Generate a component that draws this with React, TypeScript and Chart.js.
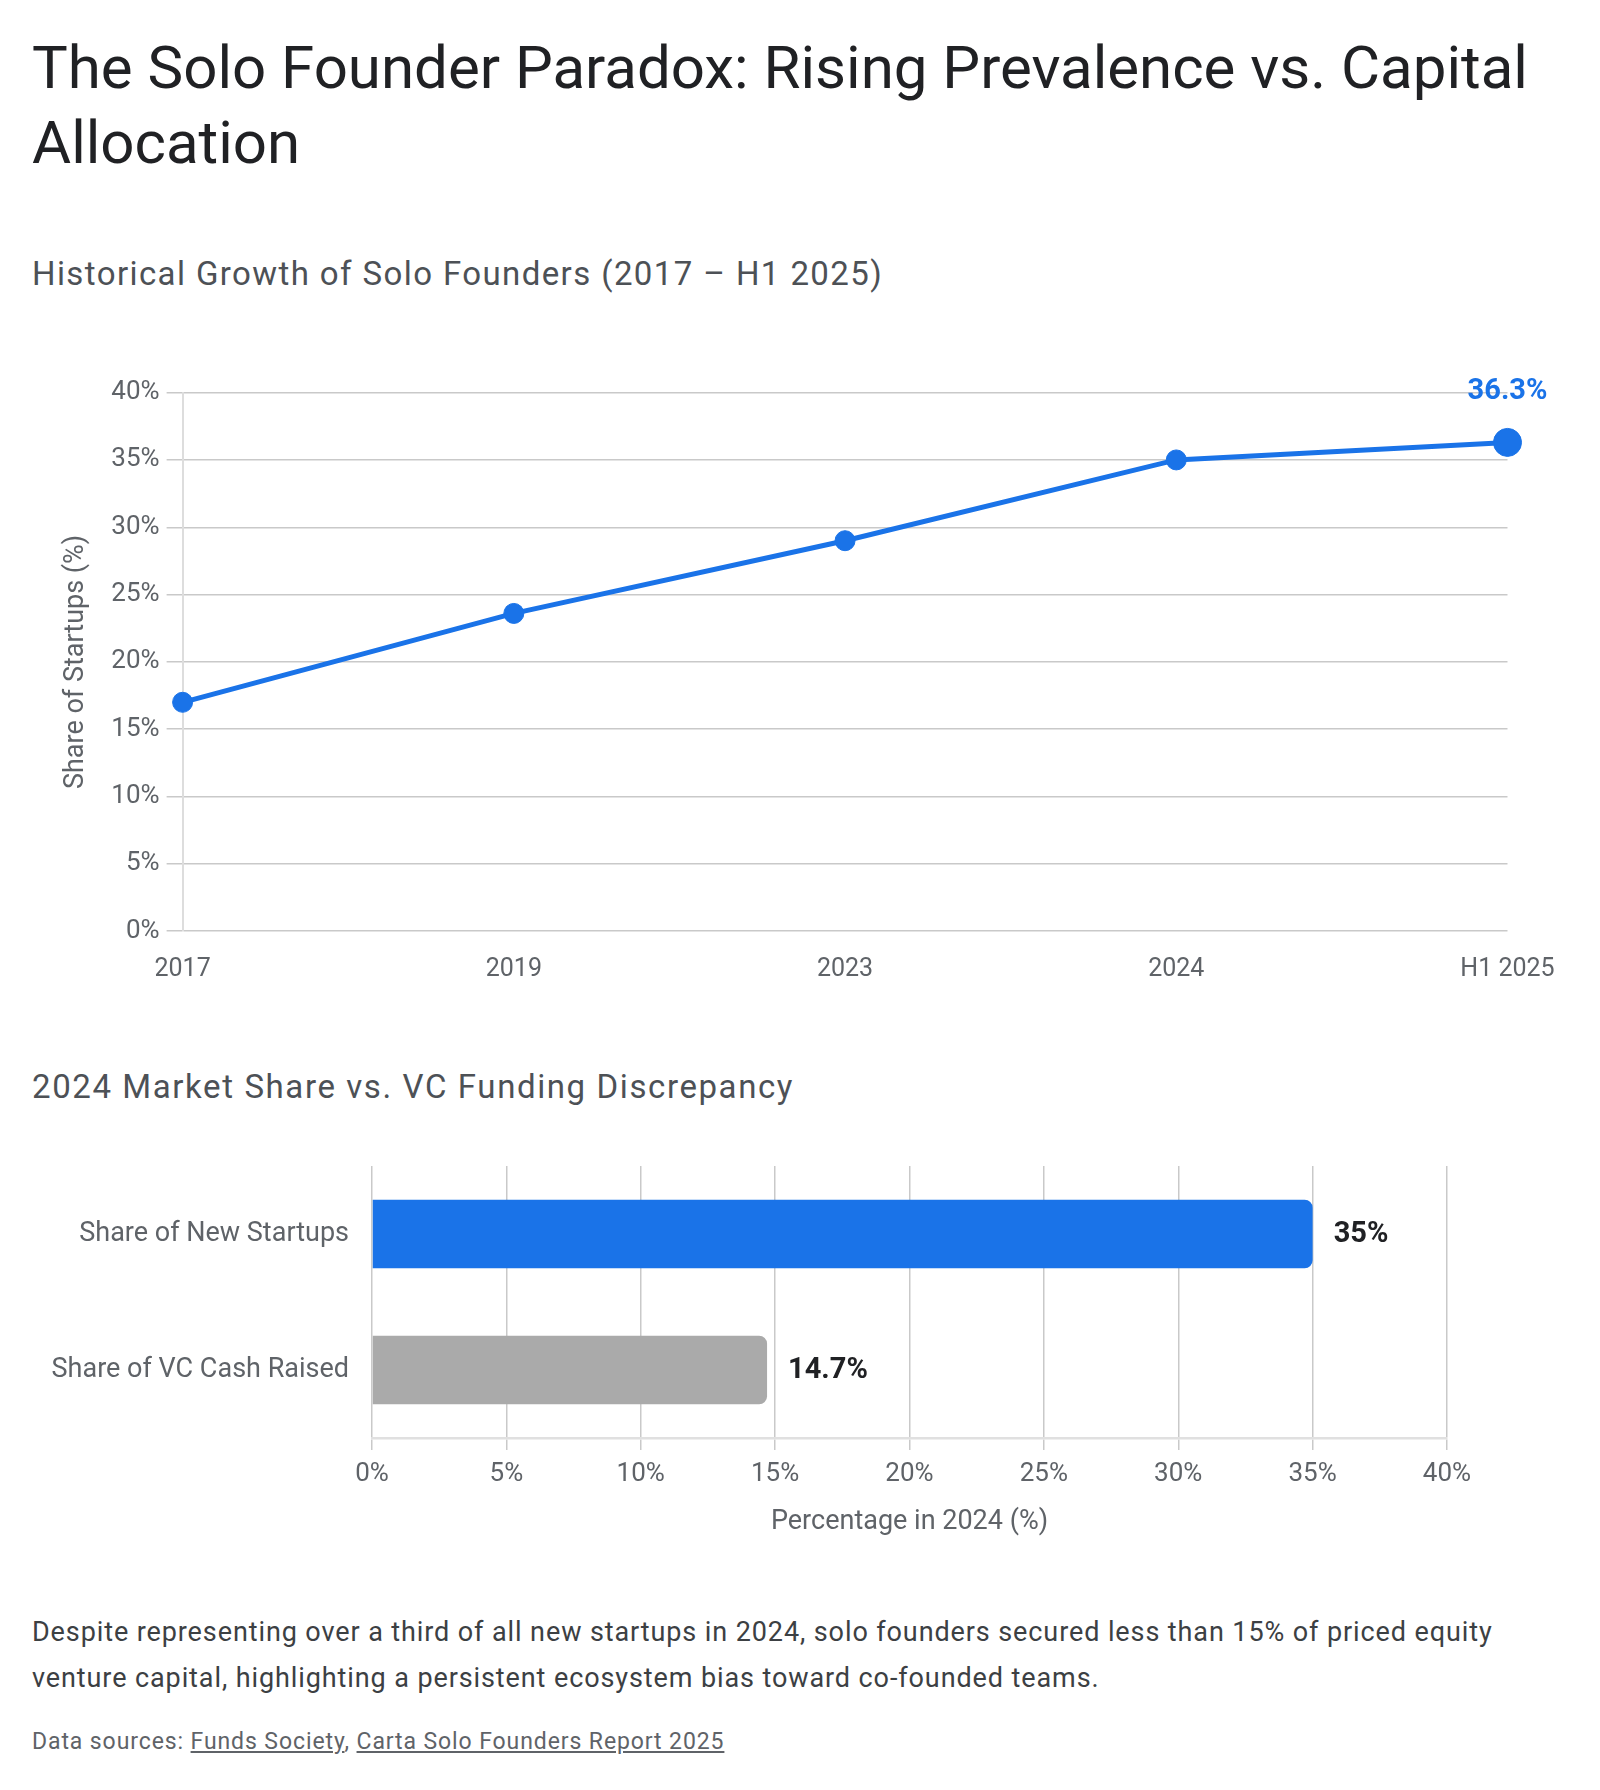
import React, { useEffect, useRef } from "react";
import { Chart, registerables } from "chart.js";

Chart.register(...registerables);

const FONT = "Roboto, 'Noto Sans', Arial, sans-serif";
const BLUE = "#1a73e8";
const GRAY_TEXT = "#5f6368";
const GRID = "#c9c9c9";

// Historical share of startups with a single founder
const growthPeriods = ["2017", "2019", "2023", "2024", "H1 2025"];
const soloFounderShare = [17, 23.6, 29, 35, 36.3];

// 2024 comparison: prevalence vs. capital raised
const compareLabels = ["Share of New Startups", "Share of VC Cash Raised"];
const compareValues = [35, 14.7];
const compareColors = [BLUE, "#aaaaaa"];

const pct = (v: number | string) => `${v}%`;

function GrowthChart() {
  const ref = useRef<HTMLCanvasElement | null>(null);
  useEffect(() => {
    if (!ref.current) return;
    const lastLabel = {
      id: "lastLabel",
      afterDatasetsDraw(chart: any) {
        const meta = chart.getDatasetMeta(0);
        const i = meta.data.length - 1;
        const pt = meta.data[i];
        const ctx = chart.ctx;
        ctx.save();
        ctx.font = `bold 29px ${FONT}`;
        ctx.fillStyle = BLUE;
        ctx.textAlign = "center";
        ctx.textBaseline = "middle";
        ctx.fillText(pct(soloFounderShare[i]), pt.x, pt.y - 51);
        ctx.restore();
      },
    };
    const chart = new Chart(ref.current, {
      type: "line",
      data: {
        labels: growthPeriods,
        datasets: [
          {
            data: soloFounderShare,
            borderColor: BLUE,
            backgroundColor: BLUE,
            borderWidth: 5,
            pointRadius: soloFounderShare.map((_, i) => (i === soloFounderShare.length - 1 ? 14 : 10)),
            pointBorderWidth: 1,
            pointBackgroundColor: BLUE,
            pointBorderColor: BLUE,
            tension: 0,
          },
        ],
      },
      options: {
        animation: false,
        responsive: false,
        layout: { padding: { top: 32.6, right: 72.5, left: 0, bottom: 0 } },
        plugins: { legend: { display: false }, tooltip: { enabled: false } },
        scales: {
          x: {
            type: "category",
            offset: false,
            grid: { display: false, drawTicks: false },
            border: { display: false },
            ticks: {
              font: { family: FONT, size: 25 },
              color: GRAY_TEXT,
              padding: 24,
              maxRotation: 0,
              autoSkip: false,
            },
            afterFit: (s: any) => {
              s.height = 68.8;
            },
          },
          y: {
            min: 0,
            max: 40,
            ticks: {
              stepSize: 5,
              callback: (v: any) => pct(v),
              font: { family: FONT, size: 26 },
              color: GRAY_TEXT,
              padding: 7,
            },
            grid: { color: GRID, lineWidth: 1.5, drawTicks: true, tickLength: 16 },
            border: { display: true, color: "#dddddd", width: 2 },
            title: {
              display: true,
              text: "Share of Startups (%)",
              font: { family: FONT, size: 27 },
              color: GRAY_TEXT,
              padding: { top: 28.5, bottom: 0 },
            },
            afterFit: (s: any) => {
              s.width = 150.6;
            },
          },
        },
      },
      plugins: [lastLabel],
    });
    return () => chart.destroy();
  }, []);
  return <canvas ref={ref} width={1548} height={640} style={{ position: "absolute", left: 24, top: 352, width: 1548, height: 640 }} />;
}

function CompareChart() {
  const ref = useRef<HTMLCanvasElement | null>(null);
  useEffect(() => {
    if (!ref.current) return;
    const barLabels = {
      id: "barLabels",
      afterDatasetsDraw(chart: any) {
        const meta = chart.getDatasetMeta(0);
        const ctx = chart.ctx;
        ctx.save();
        ctx.font = `bold 29px ${FONT}`;
        ctx.fillStyle = "#202124";
        ctx.textAlign = "left";
        ctx.textBaseline = "middle";
        meta.data.forEach((bar: any, i: number) => {
          ctx.fillText(pct(compareValues[i]), bar.x + 21, bar.y + 1);
        });
        ctx.restore();
      },
    };
    const chart = new Chart(ref.current, {
      type: "bar",
      data: {
        labels: compareLabels,
        datasets: [
          {
            data: compareValues,
            backgroundColor: compareColors,
            borderRadius: 8,
            barPercentage: 0.505,
            categoryPercentage: 1,
          },
        ],
      },
      options: {
        indexAxis: "y",
        animation: false,
        responsive: false,
        layout: { padding: { top: 26, right: 133, left: 0, bottom: 0 } },
        plugins: { legend: { display: false }, tooltip: { enabled: false } },
        scales: {
          x: {
            min: 0,
            max: 40,
            ticks: {
              stepSize: 5,
              callback: (v: any) => pct(v),
              font: { family: FONT, size: 26 },
              color: GRAY_TEXT,
              padding: 9,
            },
            grid: { color: GRID, lineWidth: 1.5, drawTicks: true, tickLength: 12 },
            border: { display: true, color: "#e0e0e0", width: 2.5 },
            title: {
              display: true,
              text: "Percentage in 2024 (%)",
              font: { family: FONT, size: 27 },
              color: GRAY_TEXT,
              padding: { top: 0, bottom: 22 },
            },
            afterFit: (s: any) => {
              s.height = 122;
            },
          },
          y: {
            grid: {
              display: true,
              drawOnChartArea: false,
              drawTicks: true,
              tickLength: 23,
              color: "rgba(0,0,0,0)",
            },
            border: { display: false },
            ticks: { font: { family: FONT, size: 27 }, color: GRAY_TEXT, padding: 0 },
            afterFit: (s: any) => {
              s.width = 340;
            },
          },
        },
      },
      plugins: [barLabels],
    });
    return () => chart.destroy();
  }, []);
  return <canvas ref={ref} width={1548} height={420} style={{ position: "absolute", left: 24, top: 1132, width: 1548, height: 420 }} />;
}

const abs = (left: number, top: number, extra: React.CSSProperties): React.CSSProperties => ({
  position: "absolute",
  left,
  top,
  margin: 0,
  fontFamily: FONT,
  whiteSpace: "nowrap",
  ...extra,
});

const subtitleStyle: React.CSSProperties = {
  fontSize: 33,
  lineHeight: "40px",
  fontWeight: 400,
  letterSpacing: "1.4px",
  color: "#4d5156",
};

export default function App() {
  return (
    <div style={{ position: "relative", width: 1584, height: 1774, background: "#ffffff" }}>
      <h1 style={abs(24, 22, { fontSize: 60, lineHeight: "75px", fontWeight: 400, color: "#202124" })}>
        The Solo Founder Paradox: Rising Prevalence vs. Capital
        <br />
        Allocation
      </h1>
      <h2 style={abs(24, 245.7, subtitleStyle)}>Historical Growth of Solo Founders (2017 – H1 2025)</h2>
      <GrowthChart />
      <h2 style={abs(24, 1058.7, { ...subtitleStyle, letterSpacing: "1.6px" })}>
        2024 Market Share vs. VC Funding Discrepancy
      </h2>
      <CompareChart />
      <p style={abs(24, 1601, { fontSize: 27, lineHeight: "46px", letterSpacing: "0.9px", color: "#3c4043" })}>
        Despite representing over a third of all new startups in 2024, solo founders secured less than 15% of priced equity
        <br />
        venture capital, highlighting a persistent ecosystem bias toward co-founded teams.
      </p>
      <p style={abs(24, 1720, { fontSize: 23, lineHeight: "28px", letterSpacing: "0.9px", color: GRAY_TEXT })}>
        Data sources: <span style={{ textDecoration: "underline" }}>Funds Society</span>,{" "}
        <span style={{ textDecoration: "underline" }}>Carta Solo Founders Report 2025</span>
      </p>
    </div>
  );
}
